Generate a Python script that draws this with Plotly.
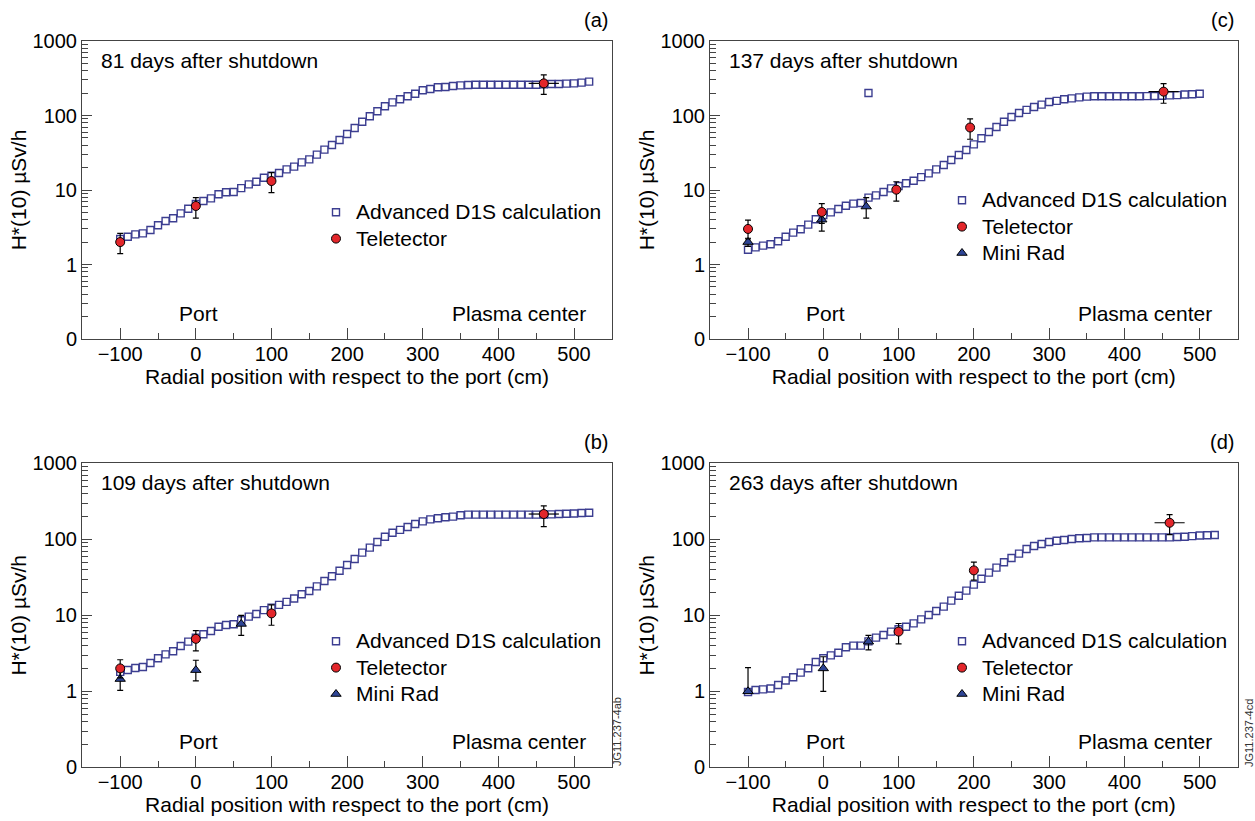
import plotly.graph_objects as go

# ---------------- data ----------------
x_calc_long = list(range(-100, 521, 10))   # panels a, b, d
x_calc_short = list(range(-100, 501, 10))  # panel c

calc_a = [2.2, 2.36, 2.54, 2.62, 2.90, 3.36, 3.84, 4.17, 4.86, 5.61, 6.49,
          7.12, 7.73, 8.75, 9.31, 9.40, 10.6, 11.9, 12.9, 14.6, 15.6,
          16.9, 18.9, 20.6, 23.5, 25.8, 29.8, 34.8, 40.2, 46.9, 56.5,
          67.9, 82.6, 97.5, 114, 133, 150, 165, 181, 196, 218,
          227, 239, 241, 249, 254, 257, 259, 259, 259, 259,
          259, 259, 259, 259, 259, 262, 265, 265, 268, 270,
          276, 285]
calc_b = [1.8, 1.91, 2.03, 2.09, 2.36, 2.72, 3.06, 3.36, 3.94, 4.50, 5.08,
          5.62, 6.21, 7.08, 7.46, 7.61, 8.59, 9.60, 10.4, 11.7, 12.6,
          13.7, 15.0, 16.6, 18.9, 20.9, 24.0, 28.3, 32.6, 38.6, 45.9,
          55.1, 66.7, 77.6, 92.1, 108, 122, 133, 145, 159, 172,
          183, 189, 195, 199, 207, 211, 211, 211, 211, 211,
          211, 211, 211, 211, 211, 211, 213, 215, 217, 219,
          222, 224]
calc_c = [1.58, 1.70, 1.79, 1.87, 2.05, 2.36, 2.68, 2.97, 3.43, 4.04, 4.62,
          5.01, 5.56, 6.16, 6.56, 6.69, 7.89, 8.48, 9.40, 10.5, 11.3,
          12.3, 13.3, 14.9, 16.7, 18.9, 21.7, 25.3, 29.5, 34.4, 41.0,
          49.4, 60.1, 70.1, 82.6, 95.5, 108, 119, 130, 140, 152,
          157, 165, 170, 175, 179, 181, 181, 181, 181, 181,
          181, 181, 182, 183, 184, 186, 188, 191, 193, 196]
calc_c_extra_x = [60]
calc_c_extra_y = [200]
calc_d = [0.98, 1.04, 1.06, 1.09, 1.21, 1.39, 1.53, 1.76, 2.01, 2.43, 2.72,
          2.97, 3.22, 3.79, 3.99, 3.99, 4.54, 5.08, 5.51, 6.09, 6.54,
          7.08, 7.84, 8.85, 10.1, 11.4, 13.0, 15.6, 18.1, 21.1, 25.3,
          30.3, 36.4, 42.4, 49.8, 56.8, 64.7, 74.5, 81.6, 86.7, 92.1,
          95.9, 97.9, 101, 103, 104, 106, 106, 106, 106, 106,
          106, 106, 106, 106, 106, 106, 107, 108, 110, 112,
          113, 114]

# Teletector
tele_a_x = [-100, 0, 100, 460]
tele_a_y = [2.0, 6.1, 13.2, 270]
tele_a_ep = [0.62, 1.8, 3.9, 80]
tele_a_em = [0.6, 1.9, 4.0, 78]
tele_a_ex = [0, 0, 0, 20]

tele_b_x = [-100, 0, 100, 460]
tele_b_y = [2.0, 4.9, 10.6, 215]
tele_b_ep = [0.6, 1.4, 3.1, 60]
tele_b_em = [0.5, 1.5, 3.2, 68]
tele_b_ex = [0, 0, 0, 20]

tele_c_x = [-100, -2, 97, 195, 452]
tele_c_y = [3.0, 5.07, 10.1, 69, 209]
tele_c_ep = [0.95, 1.5, 2.8, 21, 58]
tele_c_em = [0.8, 1.5, 3.0, 21, 63]
tele_c_ex = [0, 0, 0, 0, 20]

tele_d_x = [100, 200, 460]
tele_d_y = [6.1, 39, 165]
tele_d_ep = [1.7, 11, 46]
tele_d_em = [1.9, 10, 50]
tele_d_ex = [0, 0, 20]

# Mini Rad
mini_b_x = [-100, 0, 60]
mini_b_y = [1.45, 1.9, 7.7]
mini_b_ep = [0.42, 0.66, 2.3]
mini_b_em = [0.42, 0.53, 2.25]

mini_c_x = [-100, -2, 57]
mini_c_y = [2.0, 4.0, 6.0]
mini_c_ep = [0.25, 1.2, 1.9]
mini_c_em = [0.25, 1.2, 1.8]

mini_d_x = [-100, 0, 60]
mini_d_y = [1.0, 2.0, 4.5]
mini_d_ep = [1.05, 0.85, 0.95]
mini_d_em = [0.02, 1.0, 1.0]

days_text = {"a": "81 days after shutdown", "b": "109 days after shutdown",
             "c": "137 days after shutdown", "d": "263 days after shutdown"}
panel_tags = {"a": "(a)", "b": "(b)", "c": "(c)", "d": "(d)"}
y_tickvals = [0.1, 1, 10, 100, 1000]
y_ticktext = ["0", "1", "10", "100", "1000"]
y_minor = [m * 10 ** e for e in (-1, 0, 1, 2) for m in range(2, 10)]

# ---------------- style ----------------
FONT = "Liberation Sans, Arial, Helvetica, sans-serif"
SQ_COLOR = "#3c3e91"
RED = "#e3262b"
TRI = "#2e4596"
FRAME = "#444444"
LEG_FS = 21


def leg_name(s):
    return f'<span style="font-size:{LEG_FS}px">{s}</span>'


W, H = 1255, 821
boxes = {
    "a": (82, 612, 41, 339),
    "b": (82, 612, 463.3, 767.3),
    "c": (710, 1237.5, 41, 339),
    "d": (710, 1237.5, 463.3, 767.3),
}
order = ["a", "b", "c", "d"]

fig = go.Figure()

panel_data = {
    "a": dict(xc=x_calc_long, yc=calc_a,
              tele=(tele_a_x, tele_a_y, tele_a_ep, tele_a_em, tele_a_ex), mini=None),
    "b": dict(xc=x_calc_long, yc=calc_b,
              tele=(tele_b_x, tele_b_y, tele_b_ep, tele_b_em, tele_b_ex),
              mini=(mini_b_x, mini_b_y, mini_b_ep, mini_b_em)),
    "c": dict(xc=x_calc_short + calc_c_extra_x, yc=calc_c + calc_c_extra_y,
              tele=(tele_c_x, tele_c_y, tele_c_ep, tele_c_em, tele_c_ex),
              mini=(mini_c_x, mini_c_y, mini_c_ep, mini_c_em)),
    "d": dict(xc=x_calc_long, yc=calc_d,
              tele=(tele_d_x, tele_d_y, tele_d_ep, tele_d_em, tele_d_ex),
              mini=(mini_d_x, mini_d_y, mini_d_ep, mini_d_em)),
}

legend_pos = {  # pixel position of legend top-left
    "a": (316, 194),
    "b": (316, 623),
    "c": (942, 182),
    "d": (942, 623),
}

for i, p in enumerate(order):
    n = i + 1
    xa = "x" if n == 1 else f"x{n}"
    ya = "y" if n == 1 else f"y{n}"
    lg = "legend" if n == 1 else f"legend{n}"
    d = panel_data[p]
    fig.add_trace(go.Scatter(
        x=d["xc"], y=d["yc"], mode="markers", name=leg_name("Advanced D1S calculation"),
        marker=dict(symbol="square-open", size=7, color=SQ_COLOR,
                    line=dict(width=1.4, color=SQ_COLOR)),
        xaxis=xa, yaxis=ya, legend=lg, showlegend=True, legendrank=1))
    if d["mini"] is not None:
        mx, my, mep, mem = d["mini"]
        fig.add_trace(go.Scatter(
            x=mx, y=my, mode="markers", name="Mini Rad",
            marker=dict(symbol="triangle-up", size=9, color=TRI,
                        line=dict(width=1, color="black")),
            error_y=dict(type="data", array=mep, arrayminus=mem, color="black",
                         thickness=1.2, width=3),
            xaxis=xa, yaxis=ya, legend=lg, showlegend=False))
    tx, ty, tep, tem, tex = d["tele"]
    fig.add_trace(go.Scatter(
        x=tx, y=ty, mode="markers", name=leg_name("Teletector"),
        marker=dict(symbol="circle", size=9, color=RED,
                    line=dict(width=1, color="black")),
        error_y=dict(type="data", array=tep, arrayminus=tem, color="black",
                     thickness=1.2, width=3),
        error_x=dict(type="data", array=tex, color="black", thickness=1.2, width=0),
        xaxis=xa, yaxis=ya, legend=lg, showlegend=True, legendrank=2))
    if d["mini"] is not None:
        fig.add_trace(go.Scatter(
            x=[None], y=[None], mode="markers", name=leg_name("Mini Rad"),
            marker=dict(symbol="triangle-up", size=9, color=TRI,
                        line=dict(width=1, color="black")),
            xaxis=xa, yaxis=ya, legend=lg, showlegend=True, legendrank=3))

layout = dict(
    width=W, height=H, margin=dict(l=0, r=0, t=0, b=0, autoexpand=False),
    paper_bgcolor="white", plot_bgcolor="white",
    font=dict(family=FONT, size=20, color="black"),
    showlegend=True,
)

annotations = []
for i, p in enumerate(order):
    n = i + 1
    l, r, t, b = boxes[p]
    xkey = "xaxis" if n == 1 else f"xaxis{n}"
    ykey = "yaxis" if n == 1 else f"yaxis{n}"
    xref = "x" if n == 1 else f"x{n}"
    yref = "y" if n == 1 else f"y{n}"
    layout[xkey] = dict(
        domain=[l / W, r / W], anchor=yref, range=[-150.5, 550.2],
        tick0=0, dtick=100, ticks="inside", ticklen=11, tickwidth=1,
        tickcolor=FRAME, showline=True, mirror=True, linecolor=FRAME, linewidth=1,
        showgrid=False, zeroline=False, automargin=False, ticklabelstandoff=-3,
        minor=dict(ticks="inside", ticklen=6, dtick=50, tick0=0, tickcolor=FRAME,
                   showgrid=False),
        tickfont=dict(size=20, family=FONT),
        title=dict(text="Radial position with respect to the port (cm)",
                   font=dict(size=21, family=FONT), standoff=3),
    )
    layout[ykey] = dict(
        domain=[1 - b / H, 1 - t / H], anchor=xref, type="log", range=[-1, 3],
        tickvals=y_tickvals, ticktext=y_ticktext, ticks="inside", ticklen=10,
        tickwidth=1, tickcolor=FRAME, showline=True, mirror=True,
        linecolor=FRAME, linewidth=1, showgrid=False, zeroline=False,
        automargin=False,
        minor=dict(ticks="inside", ticklen=6, tickvals=y_minor, tickcolor=FRAME,
                   showgrid=False),
        tickfont=dict(size=20, family=FONT),
        title=dict(text="H*(10) µSv/h", font=dict(size=21, family=FONT), standoff=0),
    )
    lgkey = "legend" if n == 1 else f"legend{n}"
    lx, ly = legend_pos[p]
    layout[lgkey] = dict(
        x=lx / W, y=1 - ly / H, xanchor="left", yanchor="top",
        bgcolor="rgba(0,0,0,0)", borderwidth=0,
        font=dict(size=18, family=FONT), tracegroupgap=0, itemwidth=30,
        traceorder="normal",
    )
    annotations.append(dict(
        text=days_text[p], xref="paper", yref="paper", x=(l + 17) / W,
        y=1 - (t + 19) / H, xanchor="left", yanchor="middle", showarrow=False,
        font=dict(size=21, family=FONT)))
    annotations.append(dict(
        text=panel_tags[p], xref="paper", yref="paper", x=(r - 2) / W,
        y=1 - (t - 21) / H, xanchor="right", yanchor="middle", showarrow=False,
        font=dict(size=20, family=FONT)))
    annotations.append(dict(
        text="Port", xref=xref, yref=yref, x=3, y=-0.66,
        xanchor="center", yanchor="middle", showarrow=False,
        font=dict(size=21, family=FONT)))
    annotations.append(dict(
        text="Plasma center", xref=xref, yref=yref, x=427, y=-0.66,
        xanchor="center", yanchor="middle", showarrow=False,
        font=dict(size=21, family=FONT)))

annotations.append(dict(
    text="JG11.237-4ab", xref="paper", yref="paper", x=617 / W, y=1 - 732 / H,
    textangle=-90, showarrow=False, font=dict(size=11, family=FONT, color="#333"),
    xanchor="center", yanchor="middle"))
annotations.append(dict(
    text="JG11.237-4cd", xref="paper", yref="paper", x=1249 / W, y=1 - 733 / H,
    textangle=-90, showarrow=False, font=dict(size=11, family=FONT, color="#333"),
    xanchor="center", yanchor="middle"))

layout["annotations"] = annotations
fig.update_layout(**layout)

fig.write_html("out.html")
